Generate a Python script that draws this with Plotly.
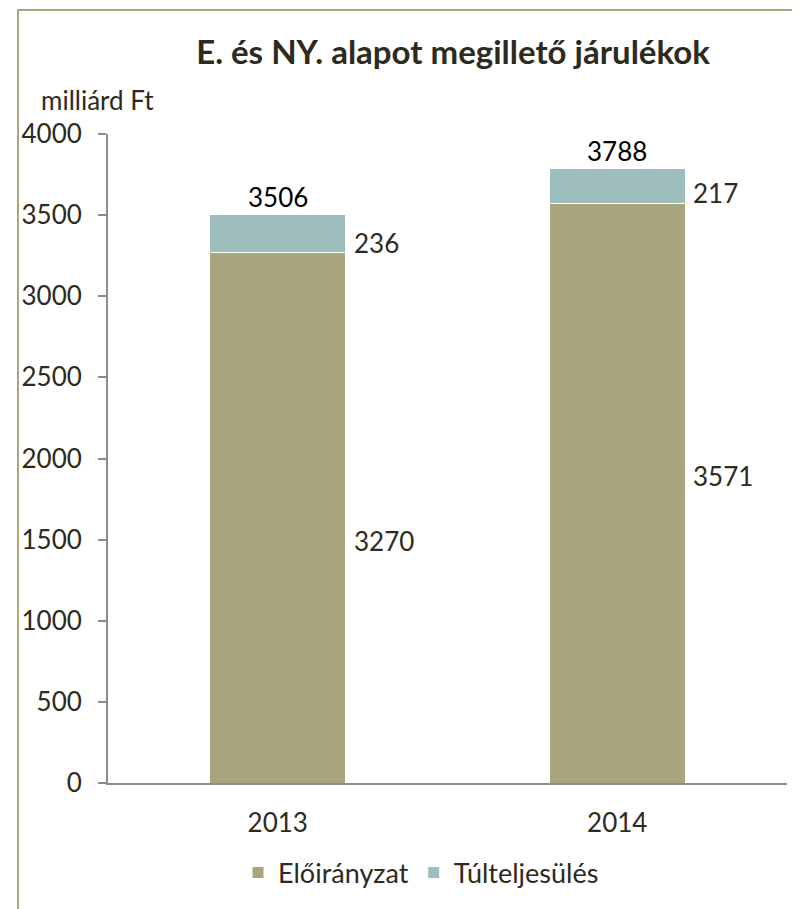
import plotly.graph_objects as go

years = ["2013", "2014"]
eloiranyzat = [3270, 3571]
tulteljesules = [236, 217]
totals = [3506, 3788]

y_ticks = [0, 500, 1000, 1500, 2000, 2500, 3000, 3500, 4000]

OLIVE = "#a8a47c"
TEAL = "#9dbdbc"
TEXT = "#2d2a20"
FONT = "Lato"

xpos = list(range(len(years)))

fig = go.Figure()

fig.add_trace(go.Bar(x=xpos, y=eloiranyzat, name="Előirányzat", width=0.4,
                     marker=dict(color=OLIVE, line=dict(color="white", width=1))))
fig.add_trace(go.Bar(x=xpos, y=tulteljesules, name="Túlteljesülés", width=0.4,
                     marker=dict(color=TEAL, line=dict(color="white", width=1))))

# totals above the stacks
for xi, tot in zip(xpos, totals):
    fig.add_annotation(
        x=xi, y=tot, text=str(tot), showarrow=False,
        yshift=17, font=dict(family=FONT, size=26, color="black"),
    )

# segment labels to the right of the bars (nudged like the original)
base_shift = [-23, 17]
top_shift = [-10, -7]
for i, xi in enumerate(xpos):
    fig.add_annotation(
        x=xi + 0.2, y=eloiranyzat[i] / 2, text=str(eloiranyzat[i]), showarrow=False,
        xanchor="left", xshift=6, yshift=base_shift[i],
        font=dict(family=FONT, size=26, color=TEXT),
    )
    fig.add_annotation(
        x=xi + 0.2, y=eloiranyzat[i] + tulteljesules[i] / 2, text=str(tulteljesules[i]),
        showarrow=False, xanchor="left", xshift=6, yshift=top_shift[i],
        font=dict(family=FONT, size=26, color=TEXT),
    )

# unit label
fig.add_annotation(
    x=(39 - 108) / 679, y=(783 - 100) / 649, xref="paper", yref="paper",
    xanchor="left", yanchor="middle", text="milliárd Ft", showarrow=False,
    font=dict(family=FONT, size=26, color=TEXT),
)

# outer frame
fig.add_shape(
    type="rect", xref="paper", yref="paper",
    x0=(18 - 108) / 679, x1=1.2, y0=-0.4, y1=(783 - 10) / 649,
    line=dict(color="#aca67e", width=2), layer="below",
)

# page body adds an 8px offset, margins compensate
fig.update_layout(
    barmode="stack",
    width=800,
    height=909,
    margin=dict(l=100, r=21, t=126, b=134),
    paper_bgcolor="white",
    plot_bgcolor="white",
    font=dict(family=FONT, size=26, color=TEXT),
    title=dict(
        text="<b>E. és NY. alapot megillető járulékok</b>",
        x=445 / 800, xanchor="center",
        y=1 - 44 / 909, yanchor="middle",
        font=dict(family=FONT, size=33, color=TEXT),
    ),
    legend=dict(
        orientation="h", x=(421 - 108) / 679, xanchor="center",
        y=(783 - 873) / 649, yanchor="middle",
        font=dict(family=FONT, size=27, color=TEXT),
        traceorder="normal",
    ),
)
fig.update_xaxes(
    range=[-0.5, len(years) - 0.5], tickvals=xpos, ticktext=years,
    showline=True, linecolor="#8c8c8c", linewidth=2,
    ticks="outside", ticklen=16, tickcolor="rgba(0,0,0,0)",
    showgrid=False, zeroline=False,
)
fig.update_yaxes(
    range=[0, 4000], tickvals=y_ticks,
    showline=True, linecolor="#8c8c8c", linewidth=2,
    ticks="outside", ticklen=8, tickcolor="#8c8c8c", tickwidth=2,
    showgrid=False, zeroline=False, ticklabelstandoff=11,
)

fig.write_html("out.html")
